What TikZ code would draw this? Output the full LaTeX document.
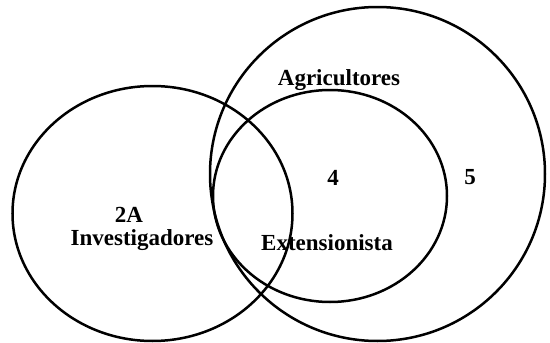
\documentclass[tikz,border=0pt]{standalone}
\usepackage{fontspec}
\setmainfont{Liberation Serif}
\usetikzlibrary{shapes.geometric}

\begin{document}
\begin{tikzpicture}[
  x=1pt, y=-1pt,
  ring/.style={ellipse, draw, line width=2.5pt, inner sep=0pt},
  lab/.style={font=\fontsize{23}{23}\selectfont\bfseries, inner sep=1pt},
]
\useasboundingbox (0,0) rectangle (550,343);

% --- the three sets ---
\node[ring, minimum width=280pt, minimum height=255pt] (inv) at (152.5,213.5) {};
\node[ring, minimum width=335pt, minimum height=334pt] (agr) at (377.5,174) {};
\node[ring, minimum width=234pt, minimum height=212pt] (ext) at (330,196) {};

% --- labels ---
\node[lab] (agrlab) at (339,80) {Agricultores};
\node[lab] (four) at (333,178) {4};
\node[lab] (five) at (470,177) {5};
\node[lab] (twoa) at (129,215) {2A};
\node[lab] (invlab) at (142,240) {Investigadores};
\node[lab] (extlab) at (327,243) {Extensionista};
\end{tikzpicture}
\end{document}
